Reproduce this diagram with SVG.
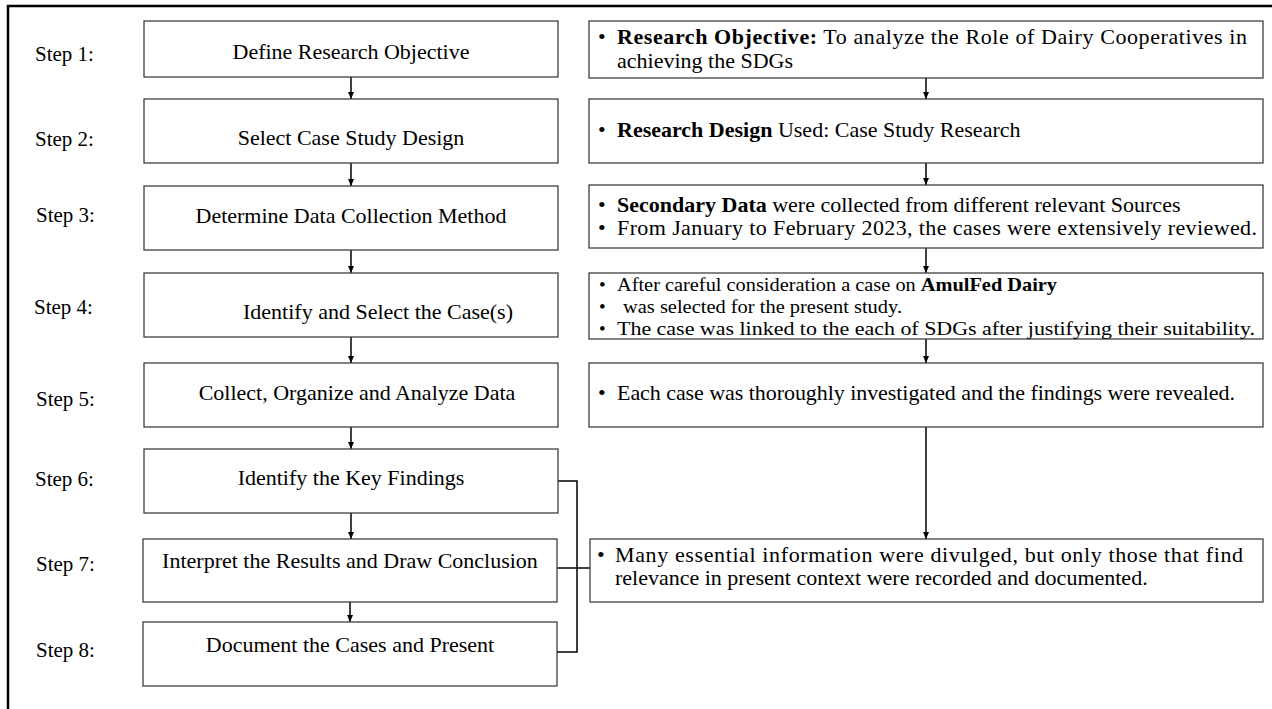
<svg xmlns="http://www.w3.org/2000/svg" width="1272" height="709" viewBox="0 0 1272 709">
<style>
.box{fill:#fff;stroke:#404040;stroke-width:1.3}
.t{font-family:"Liberation Serif","Times New Roman",serif;font-size:22px;fill:#000}
.s{font-size:19px}
.lbl{font-family:"Liberation Serif","Times New Roman",serif;font-size:21px;fill:#000}
.c{text-anchor:middle}
.b{font-weight:bold}
.con{fill:none;stroke:#000;stroke-width:1.5}
</style>
<defs>
<marker id="ah" markerUnits="userSpaceOnUse" markerWidth="8" markerHeight="7" refX="7" refY="3" orient="auto">
<path d="M0,0 L7,3 L0,6 z" fill="#000"/>
</marker>
</defs>
<rect x="0" y="0" width="1272" height="709" fill="#fff"/>
<path d="M8,709 V6 H1272" fill="none" stroke="#000" stroke-width="2.5"/>

<g id="connectors">
<line class="con" x1="351" y1="77" x2="351" y2="99" marker-end="url(#ah)"/>
<line class="con" x1="351" y1="163" x2="351" y2="186" marker-end="url(#ah)"/>
<line class="con" x1="351" y1="250" x2="351" y2="273" marker-end="url(#ah)"/>
<line class="con" x1="351" y1="337" x2="351" y2="363" marker-end="url(#ah)"/>
<line class="con" x1="351" y1="427" x2="351" y2="449" marker-end="url(#ah)"/>
<line class="con" x1="351" y1="513" x2="351" y2="539" marker-end="url(#ah)"/>
<line class="con" x1="350" y1="602" x2="350" y2="622" marker-end="url(#ah)"/>
<line class="con" x1="926" y1="78" x2="926" y2="99" marker-end="url(#ah)"/>
<line class="con" x1="926" y1="163" x2="926" y2="185" marker-end="url(#ah)"/>
<line class="con" x1="926" y1="248" x2="926" y2="273" marker-end="url(#ah)"/>
<line class="con" x1="926" y1="339" x2="926" y2="363" marker-end="url(#ah)"/>
<line class="con" x1="926" y1="427" x2="926" y2="539" marker-end="url(#ah)"/>
<path class="con" d="M558,481 H577 V652 H557"/>
<line class="con" x1="557" y1="568" x2="590" y2="568"/>
</g>

<g id="step1">
<text class="lbl" x="35" y="61">Step 1:</text>
<rect class="box" x="144" y="21" width="414" height="56"/>
<text class="t c" x="351" y="59">Define Research Objective</text>
</g>
<g id="step2">
<text class="lbl" x="35" y="146">Step 2:</text>
<rect class="box" x="144" y="99" width="414" height="64"/>
<text class="t c" x="351" y="145">Select Case Study Design</text>
</g>
<g id="step3">
<text class="lbl" x="36" y="222">Step 3:</text>
<rect class="box" x="144" y="186" width="414" height="64"/>
<text class="t c" x="351" y="223">Determine Data Collection Method</text>
</g>
<g id="step4">
<text class="lbl" x="34" y="314">Step 4:</text>
<rect class="box" x="144" y="273" width="414" height="64"/>
<text class="t c" x="378" y="319">Identify and Select the Case(s)</text>
</g>
<g id="step5">
<text class="lbl" x="36" y="406">Step 5:</text>
<rect class="box" x="144" y="363" width="414" height="64"/>
<text class="t c" x="357" y="400">Collect, Organize and Analyze Data</text>
</g>
<g id="step6">
<text class="lbl" x="35" y="486">Step 6:</text>
<rect class="box" x="144" y="449" width="414" height="64"/>
<text class="t c" x="351" y="485">Identify the Key Findings</text>
</g>
<g id="step7">
<text class="lbl" x="36" y="571">Step 7:</text>
<rect class="box" x="143" y="539" width="414" height="63"/>
<text class="t c" x="350" y="568">Interpret the Results and Draw Conclusion</text>
</g>
<g id="step8">
<text class="lbl" x="36" y="657">Step 8:</text>
<rect class="box" x="143" y="622" width="414" height="64"/>
<text class="t c" x="350" y="652">Document the Cases and Present</text>
</g>

<g id="detail1">
<rect class="box" x="589" y="21" width="674" height="57"/>
<text class="t" x="598" y="44">•</text>
<text class="t" x="617" y="44" textLength="630" lengthAdjust="spacing"><tspan class="b">Research Objective:</tspan> To analyze the Role of Dairy Cooperatives in</text>
<text class="t" x="617" y="68">achieving the SDGs</text>
</g>
<g id="detail2">
<rect class="box" x="589" y="99" width="674" height="64"/>
<text class="t" x="598" y="137">•</text>
<text class="t" x="617" y="137"><tspan class="b">Research Design</tspan> Used: Case Study Research</text>
</g>
<g id="detail3">
<rect class="box" x="589" y="185" width="674" height="63"/>
<text class="t" x="598" y="212">•</text>
<text class="t" x="617" y="212"><tspan class="b">Secondary Data</tspan> were collected from different relevant Sources</text>
<text class="t" x="598" y="235">•</text>
<text class="t" x="617" y="235" textLength="640" lengthAdjust="spacing">From January to February 2023, the cases were extensively reviewed.</text>
</g>
<g id="detail4">
<rect class="box" x="589" y="273" width="674" height="66"/>
<text class="t s" x="599" y="291">•</text>
<text class="t s" x="617" y="291" textLength="440" lengthAdjust="spacingAndGlyphs">After careful consideration a case on <tspan class="b">AmulFed  Dairy</tspan></text>
<text class="t s" x="599" y="313">•</text>
<text class="t s" x="623" y="313" textLength="279" lengthAdjust="spacingAndGlyphs">was selected for the present study.</text>
<text class="t s" x="599" y="335">•</text>
<text class="t s" x="617" y="335" textLength="638" lengthAdjust="spacingAndGlyphs">The case was linked to the each of SDGs after justifying their suitability.</text>
</g>
<g id="detail5">
<rect class="box" x="589" y="363" width="674" height="64"/>
<text class="t" x="598" y="400">•</text>
<text class="t" x="617" y="400" textLength="618" lengthAdjust="spacing">Each case was thoroughly investigated and the findings were revealed.</text>
</g>
<g id="detail6">
<rect class="box" x="590" y="539" width="673" height="63"/>
<text class="t" x="597" y="562">•</text>
<text class="t" x="615" y="562" textLength="628" lengthAdjust="spacing">Many essential information were divulged, but only those that find</text>
<text class="t" x="615" y="585">relevance in present context were recorded and documented.</text>
</g>
</svg>
